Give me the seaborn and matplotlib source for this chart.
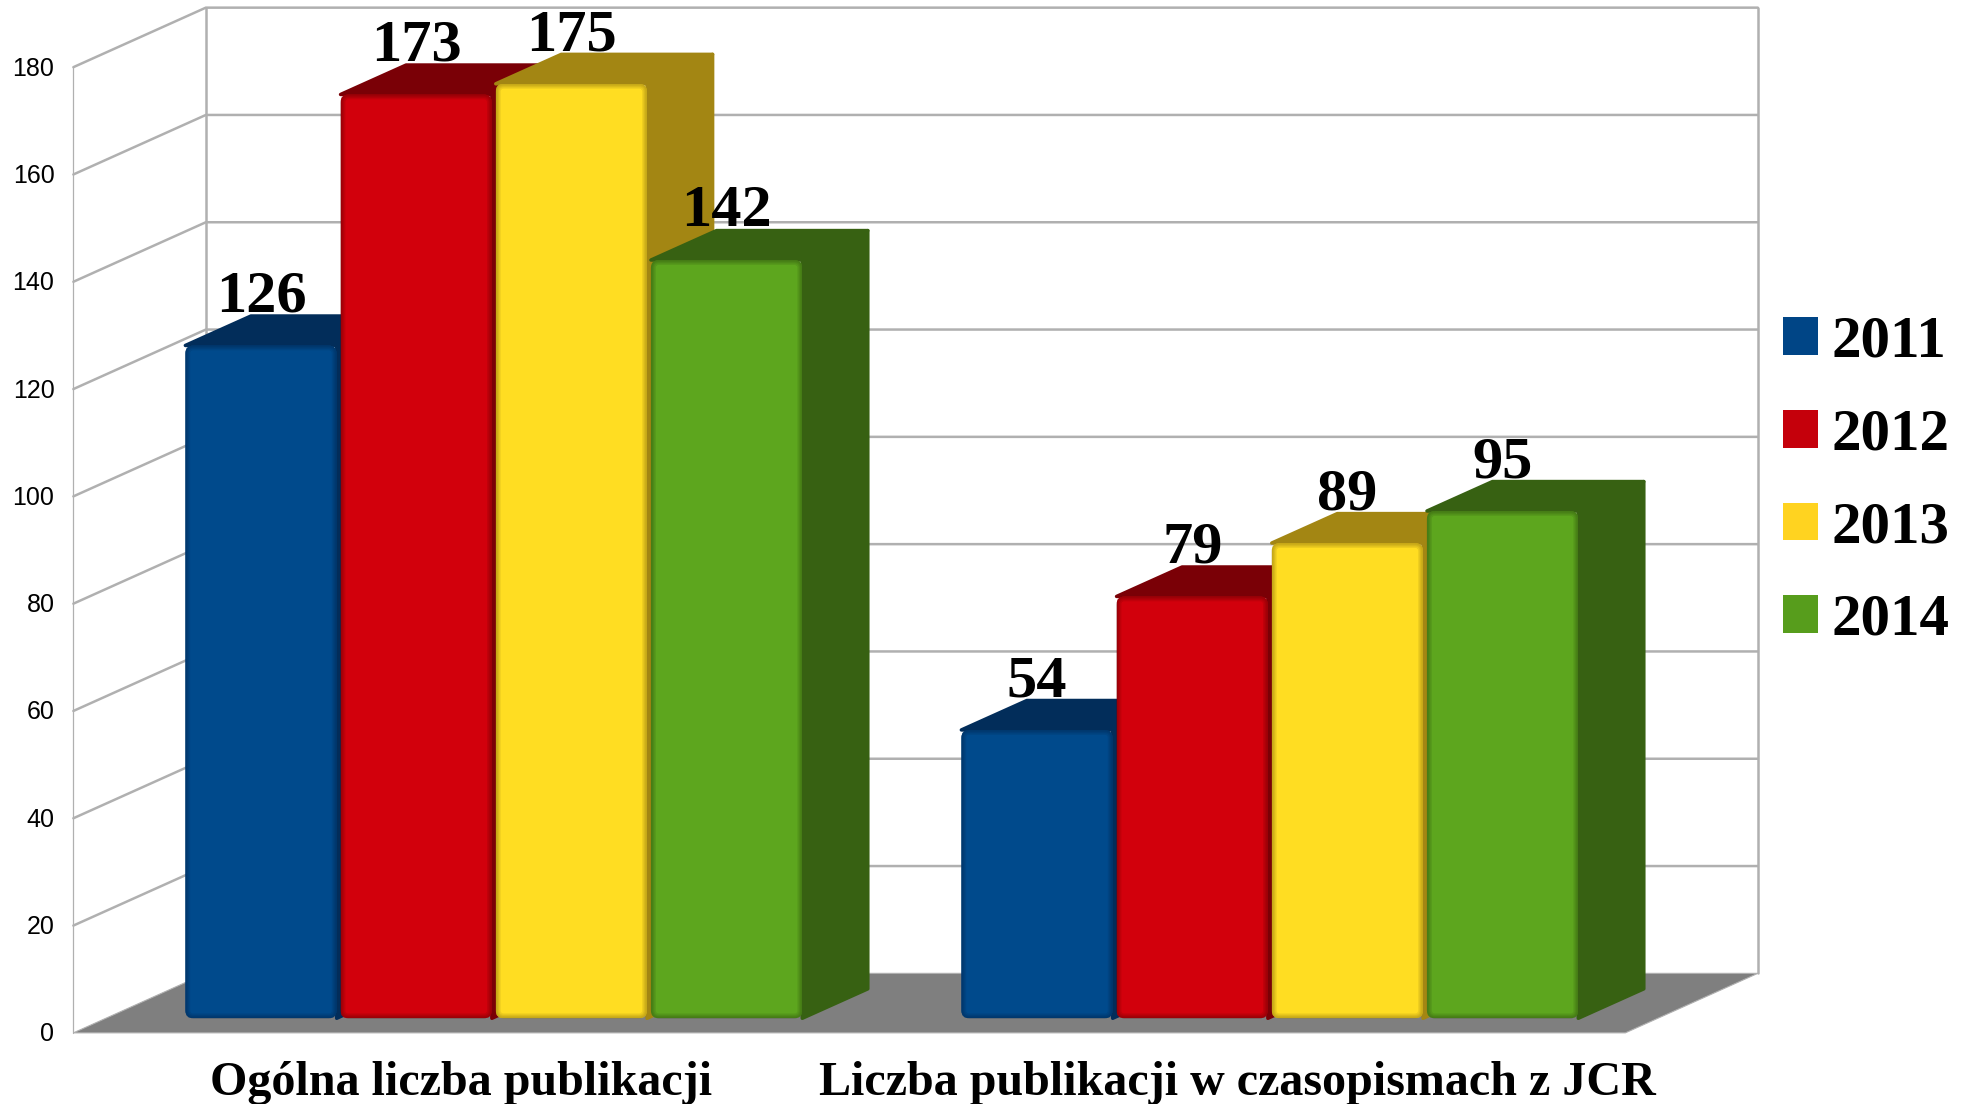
import pandas as pd
import matplotlib
matplotlib.use('Agg')
import matplotlib.pyplot as plt
from matplotlib.patches import FancyBboxPatch, Polygon, Patch
import seaborn as sns

# Dane
categories = ['Ogólna liczba publikacji', 'Liczba publikacji w czasopismach z JCR']
years = ['2011', '2012', '2013', '2014']
values_2011 = [126, 54]
values_2012 = [173, 79]
values_2013 = [175, 89]
values_2014 = [142, 95]
y_ticks = [0, 20, 40, 60, 80, 100, 120, 140, 160, 180]

# Kolory
face_colors = ['#004a8c', '#d2000c', '#ffdd22', '#5da61e']
dark_colors = ['#022d5a', '#7a0006', '#a38613', '#376112']
legend_colors = ['#004586', '#c5000b', '#ffd320', '#579d1c']
grid_color = '#b0b0b0'
floor_color = '#7f7f7f'

# Geometria wykresu w pikselach
W, H = 1969, 1104
X0 = 105.8        # lewa krawedz pierwszej kategorii
Y0 = 1018.3       # podstawa slupkow
CAT_PX = 776.0    # szerokosc kategorii
VAL_PX = 5.34     # pikseli na jednostke (slupki)
WALL = 5.365 / VAL_PX   # sciany sa w oryginale minimalnie rozciagniete
DEPTH_X = 69.0 / CAT_PX
DEPTH_Y = 31.0 / VAL_PX
D_FRONT = -0.47
D_BACK = 1.45
D_BAR = 0.95      # glebokosc slupka


def pr(x, v, d=0.0):
    # rzut ukosny: przesuniecie w glab sceny
    return (x + d * DEPTH_X, v + d * DEPTH_Y)


df = pd.DataFrame({
    'kategoria': categories * 4,
    'rok': [y for y in years for _ in categories],
    'wartosc': values_2011 + values_2012 + values_2013 + values_2014,
})

sns.set_theme(style='white')
plt.rcParams['font.family'] = ['Liberation Serif', 'DejaVu Serif']

fig = plt.figure(figsize=(W / 100, H / 100), dpi=100)
ax = fig.add_axes([0, 0, 1, 1])
sns.barplot(data=df, x='kategoria', y='wartosc', hue='rok', order=categories, hue_order=years,
            palette=face_colors, width=0.8, gap=0.025, saturation=1, linewidth=0, legend=False, ax=ax)
ax.set_xlim(-0.5 - X0 / CAT_PX, -0.5 + (W - X0) / CAT_PX)
ax.set_ylim((Y0 - H) / VAL_PX, Y0 / VAL_PX)
ax.axis('off')

x_left, x_right = -0.5, 1.5
top = y_ticks[-1] * WALL

# Podloga
ax.add_patch(Polygon([pr(x_left, 0, D_FRONT), pr(x_right, 0, D_FRONT), pr(x_right, 0, D_BACK), pr(x_left, 0, D_BACK)],
                     closed=True, facecolor=floor_color, edgecolor=grid_color, linewidth=0.8, zorder=1))

# Siatka na scianach
for t in y_ticks[1:]:
    xs, ys = zip(pr(x_left, t * WALL, D_FRONT), pr(x_left, t * WALL, D_BACK), pr(x_right, t * WALL, D_BACK))
    ax.plot(xs, ys, color=grid_color, linewidth=1.8, zorder=0.5, solid_joinstyle='miter')
for xp, d, lw in [(x_left, D_FRONT, 0.9), (x_left, D_BACK, 1.8), (x_right, D_BACK, 1.8)]:
    xs, ys = zip(pr(xp, 0, d), pr(xp, top, d))
    ax.plot(xs, ys, color=grid_color, linewidth=lw, zorder=0.5)

# Etykiety osi Y
for t in y_ticks:
    ax.text(54.5 / CAT_PX - 0.5 - X0 / CAT_PX, pr(x_left, t * WALL, D_FRONT)[1] + 0.2, str(t), ha='right',
            va='center_baseline', fontsize=18, family=['Liberation Sans'], color='black', zorder=30)

# Etykiety kategorii
for i, cat in enumerate(categories):
    ax.text(pr(i, 0, D_FRONT)[0], (Y0 - 1095) / VAL_PX, cat, ha='center', va='baseline',
            fontsize=34.6, fontweight='bold', color='black', zorder=30)

# Slupki 3D: boki i gora liczone z prostokatow seaborna
radius = 8.0 / CAT_PX
aspect = CAT_PX / VAL_PX
all_bars = []
for h, container in enumerate(ax.containers):
    for c, bar in enumerate(container):
        all_bars.append((c, h, bar))
all_bars.sort(key=lambda b: (b[0], b[1]))

for n, (c, h, bar) in enumerate(all_bars):
    z = 5 + n
    l, w, v = bar.get_x(), bar.get_width(), bar.get_height()
    r = l + w
    dark = dark_colors[h]
    side = [pr(r, 0, 0), pr(r, 0, D_BAR), pr(r, v, D_BAR), pr(r, v, 0)]
    upper = [pr(l, v, 0), pr(r, v, 0), pr(r, v, D_BAR), pr(l, v, D_BAR)]
    for pts in (side, upper):
        ax.add_patch(Polygon(pts, closed=True, facecolor=dark, edgecolor=dark, linewidth=2.5,
                             joinstyle='round', zorder=z))

    # przednia sciana z zaokragleniem i miekka krawedzia
    box = FancyBboxPatch((l, 0), w, v, boxstyle=f'round,pad=0,rounding_size={radius}',
                         mutation_aspect=aspect, fill=False, linewidth=0, transform=ax.transData)
    ax.add_patch(box)
    bar.set_zorder(z + 0.1)
    bar.set_clip_path(box)
    for lw in [7.0, 5.0, 3.4, 2.0]:
        ring = FancyBboxPatch((l, 0), w, v, boxstyle=f'round,pad=0,rounding_size={radius}',
                              mutation_aspect=aspect, fill=False, edgecolor=dark, linewidth=lw,
                              alpha=0.2, zorder=z + 0.2)
        ax.add_patch(ring)
        ring.set_clip_path(box)

    # wartosc nad slupkiem
    ax.text(l + w / 2, v + DEPTH_Y * D_BAR + 0.8, str(int(v)), ha='center', va='baseline',
            fontsize=43.5, fontweight='bold', color='black', zorder=40)

# Legenda
handles = [Patch(facecolor=col, edgecolor='none', label=y) for col, y in zip(legend_colors, years)]
ax.legend(handles=handles, loc='upper left', bbox_to_anchor=(1783 / W, 1 - 316 / H), bbox_transform=fig.transFigure,
          frameon=False, prop={'family': 'Liberation Serif', 'weight': 'bold', 'size': 42.5}, labelcolor='black',
          handlelength=0.6, handleheight=0.6, handletextpad=0.22, labelspacing=0.655,
          borderpad=0, borderaxespad=0)

plt.savefig('out.png', dpi=100)
plt.close()
